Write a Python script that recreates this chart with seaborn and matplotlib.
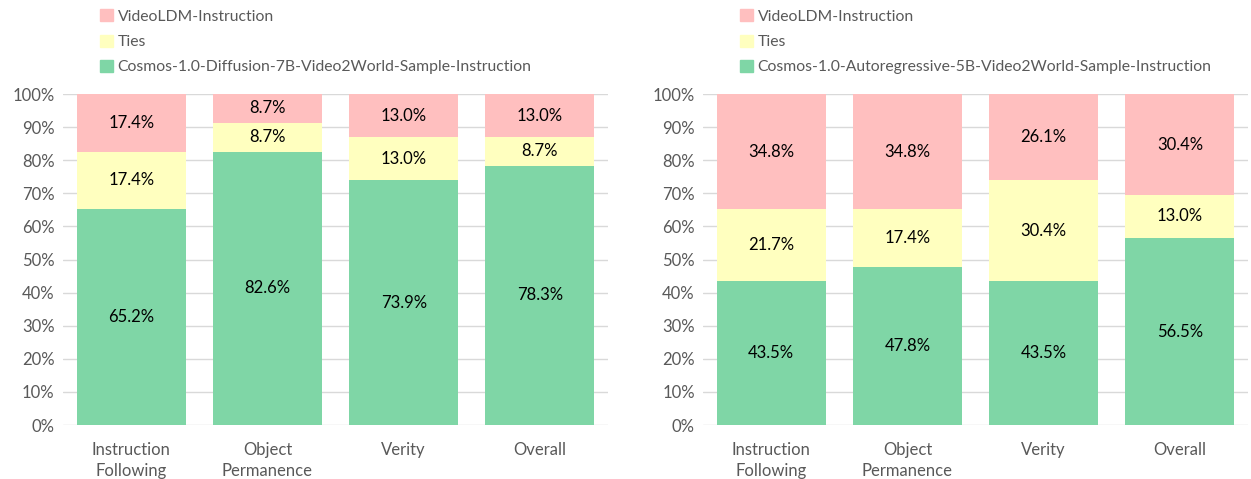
import numpy as np
import pandas as pd
import matplotlib
matplotlib.use("Agg")
import matplotlib.pyplot as plt
import seaborn as sns
from matplotlib.patches import Patch

categories = ["Instruction\nFollowing", "Object\nPermanence", "Verity", "Overall"]

diff_cosmos = [65.2, 82.6, 73.9, 78.3]
diff_ties = [17.4, 8.7, 13.0, 8.7]
diff_videoldm = [17.4, 8.7, 13.0, 13.0]

ar_cosmos = [43.5, 47.8, 43.5, 56.5]
ar_ties = [21.7, 17.4, 30.4, 13.0]
ar_videoldm = [34.8, 34.8, 26.1, 30.4]

cosmos_names = ["Cosmos-1.0-Diffusion-7B-Video2World-Sample-Instruction",
                "Cosmos-1.0-Autoregressive-5B-Video2World-Sample-Instruction"]

GREEN = "#7FD6A6"
YELLOW = "#FFFFBF"
PINK = "#FFBFBF"
GREY = "#595959"

sns.set_style("white")
plt.rcParams['font.family'] = ['Lato', 'DejaVu Sans']

fig = plt.figure(figsize=(12.51, 4.79), dpi=100)
ax1 = fig.add_axes([0.0504, 0.1127, 0.4357, 0.691])
ax2 = fig.add_axes([0.562, 0.1127, 0.4357, 0.691])


def stacked(ax, cosmos, ties, vldm, name):
    df = pd.DataFrame({"cat": categories, "cosmos": cosmos, "ties": ties, "vldm": vldm})
    df["low"] = df["cosmos"]
    df["mid"] = df["cosmos"] + df["ties"]
    df["top"] = df["mid"] + df["vldm"]
    for col, c in [("top", PINK), ("mid", YELLOW), ("low", GREEN)]:
        sns.barplot(data=df, x="cat", y=col, color=c, saturation=1, width=0.8,
                    linewidth=0, edgecolor="none", ax=ax, zorder=2)
    for i, r in df.iterrows():
        ax.text(i, r["low"] / 2, f"{r['cosmos']:.1f}%", ha="center", va="center", fontsize=12, color="black", zorder=3)
        ax.text(i, r["low"] + r["ties"] / 2, f"{r['ties']:.1f}%", ha="center", va="center", fontsize=12, color="black", zorder=3)
        ax.text(i, r["mid"] + r["vldm"] / 2, f"{r['vldm']:.1f}%", ha="center", va="center", fontsize=12, color="black", zorder=3)
    ax.set_ylim(0, 100)
    ax.set_xlim(-0.5, 3.5)
    ax.set_yticks(np.arange(0, 101, 10))
    ax.set_yticklabels([f"{v}%" for v in range(0, 101, 10)])
    ax.yaxis.grid(True, color="#D9D9D9", linewidth=1, zorder=0)
    ax.set_axisbelow(True)
    for s in ax.spines.values():
        s.set_visible(False)
    ax.tick_params(axis="both", length=0, labelsize=12, colors=GREY, pad=6)
    ax.tick_params(axis="x", pad=12)
    for t in ax.get_xticklabels():
        t.set_linespacing(1.4)
    ax.set_xlabel("")
    ax.set_ylabel("")
    handles = [Patch(color=PINK), Patch(color=YELLOW), Patch(color=GREEN)]
    labels = ["VideoLDM-Instruction", "Ties", name]
    ax.legend(handles, labels, loc="lower left", bbox_to_anchor=(0.048, 1.027), frameon=False,
              fontsize=11.3, labelcolor=GREY, handlelength=0.8, handleheight=0.8,
              handletextpad=0.3, labelspacing=0.68, borderaxespad=0.3)


stacked(ax1, diff_cosmos, diff_ties, diff_videoldm, cosmos_names[0])
stacked(ax2, ar_cosmos, ar_ties, ar_videoldm, cosmos_names[1])

fig.savefig("out.png", dpi=100)
